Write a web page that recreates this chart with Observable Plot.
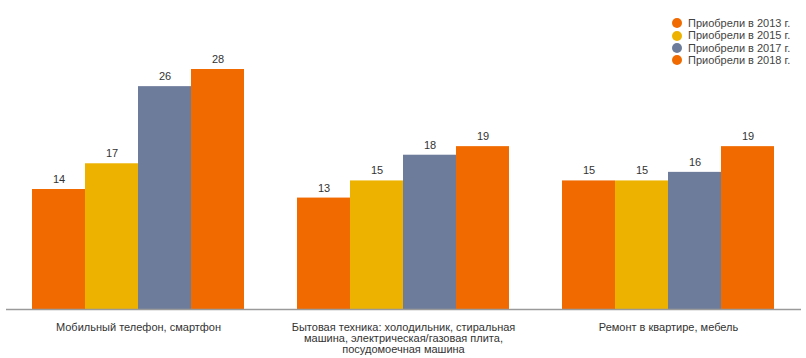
<!DOCTYPE html>
<html><head><meta charset="utf-8">
<script src="https://cdn.jsdelivr.net/npm/d3@7"></script>
<script src="https://cdn.jsdelivr.net/npm/@observablehq/plot@0.6"></script>
<style>
body{margin:0;background:#fff;font-family:"Liberation Sans",Arial,sans-serif;}
#wrap{position:relative;width:806px;height:358px;}
#legend{position:absolute;left:672px;top:17px;font-size:11px;color:#444;line-height:12.4px;}
#legend .it{display:flex;align-items:center;white-space:nowrap;}
#legend .dot{width:10px;height:10px;border-radius:50%;margin-right:6px;display:inline-block;}
</style></head>
<body><div id="wrap"><div id="legend"></div></div>
<script>
const categories = [
  "Мобильный телефон, смартфон",
  "Бытовая техника: холодильник, стиральная машина, электрическая/газовая плита, посудомоечная машина",
  "Ремонт в квартире, мебель"
];
const categoryLabels = [
  "Мобильный телефон, смартфон",
  "Бытовая техника: холодильник, стиральная\nмашина, электрическая/газовая плита,\nпосудомоечная машина",
  "Ремонт в квартире, мебель"
];
const series = ["Приобрели в 2013 г.", "Приобрели в 2015 г.", "Приобрели в 2017 г.", "Приобрели в 2018 г."];
const values2013 = [14, 13, 15];
const values2015 = [17, 15, 15];
const values2017 = [26, 18, 16];
const values2018 = [28, 19, 19];
const colors = ["#F06A00", "#EDB200", "#6E7C9B", "#F06A00"];

const allValues = [values2013, values2015, values2017, values2018];
const data = [];
categories.forEach((c, i) => series.forEach((s, j) => data.push({cat: c, series: s, value: allValues[j][i]})));
const labelOf = new Map(categories.map((c, i) => [c, categoryLabels[i]]));

const chart = Plot.plot({
  width: 806, height: 358,
  marginLeft: 32, marginRight: 32, marginTop: 9, marginBottom: 49,
  style: {fontFamily: "Liberation Sans, Arial, sans-serif", fontSize: "11px", color: "#333"},
  fx: {domain: categories, padding: 0.2, axis: "bottom", tickSize: 0, tickPadding: 14, label: null, tickFormat: d => labelOf.get(d)},
  x: {domain: series, padding: 0, axis: null},
  y: {domain: [0, 35], axis: null},
  color: {domain: series, range: colors},
  marks: [
    Plot.barY(data, {fx: "cat", x: "series", y: "value", fill: "series"}),
    Plot.text(data, {fx: "cat", x: "series", y: "value", text: d => String(d.value), dy: -10, fill: "#333", fontSize: 11}),
    Plot.ruleY([0], {stroke: "#9a9a9a", strokeWidth: 1.5, insetLeft: -26, insetRight: -27})
  ]
});
document.getElementById("wrap").prepend(chart);

const lg = document.getElementById("legend");
series.forEach((s, i) => {
  const it = document.createElement("div"); it.className = "it";
  const dot = document.createElement("span"); dot.className = "dot"; dot.style.background = colors[i];
  it.appendChild(dot); it.appendChild(document.createTextNode(s));
  lg.appendChild(it);
});
</script></body></html>
